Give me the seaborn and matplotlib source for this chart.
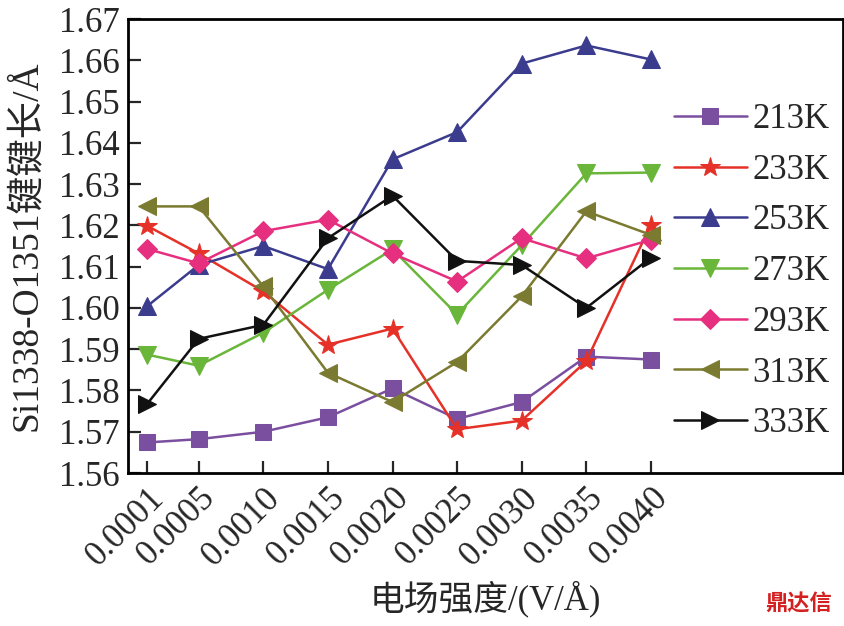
import matplotlib
matplotlib.use("Agg")
import matplotlib.pyplot as plt
import seaborn as sns

# ---------------------------------------------------------------------------
# Dados
# ---------------------------------------------------------------------------
campo = [0.0001, 0.0005, 0.0010, 0.0015, 0.0020, 0.0025, 0.0030, 0.0035, 0.0040]
rotulos_x = ["0.0001", "0.0005", "0.0010", "0.0015", "0.0020",
             "0.0025", "0.0030", "0.0035", "0.0040"]

t213 = [1.5674, 1.5682, 1.5700, 1.5735, 1.5805, 1.5731, 1.5772, 1.5882, 1.5875]
t233 = [1.6199, 1.6132, 1.6040, 1.5911, 1.5950, 1.5706, 1.5727, 1.5871, 1.6202]
t253 = [1.6004, 1.6104, 1.6150, 1.6094, 1.6360, 1.6426, 1.6592, 1.6636, 1.6602]
t273 = [1.5887, 1.5860, 1.5940, 1.6044, 1.6142, 1.5984, 1.6152, 1.6326, 1.6328]
t293 = [1.6143, 1.6108, 1.6186, 1.6214, 1.6132, 1.6064, 1.6169, 1.6120, 1.6165]
t313 = [1.6246, 1.6246, 1.6052, 1.5843, 1.5772, 1.5869, 1.6028, 1.6234, 1.6177]
t333 = [1.5767, 1.5925, 1.5959, 1.6169, 1.6272, 1.6114, 1.6104, 1.6000, 1.6122]

series = [
    ("213K", t213, "#7b4fa0", "s", 11),
    ("233K", t233, "#e53127", "*", 15),
    ("253K", t253, "#3c3c8e", "^", 13),
    ("273K", t273, "#6ab63a", "v", 13),
    ("293K", t293, "#e6307f", "D", 10),
    ("313K", t313, "#7a7a30", "<", 13),
    ("333K", t333, "#111111", ">", 13),
]

# ---------------------------------------------------------------------------
# Configuração
# ---------------------------------------------------------------------------
sns.set_style("ticks")
plt.rcParams["font.family"] = ["Liberation Serif", "Noto Sans CJK SC"]

fig = plt.figure(figsize=(8.45, 6.26), dpi=100)
ax = fig.add_axes([0.1515, 0.2444, 0.846, 0.7252])

for nome, valores, cor, marcador, tam in series:
    sns.lineplot(x=campo, y=valores, color=cor, marker=marcador, markersize=tam,
                 markeredgecolor=cor, linewidth=1.8, label=nome, ax=ax)

ax.set_xlim(-0.0000472, 0.005486)
ax.set_ylim(1.56, 1.67)
ax.set_xticks(campo)
ax.set_xticklabels(rotulos_x, rotation=45, ha="right", rotation_mode="anchor")
ax.set_yticks([1.56 + 0.01 * i for i in range(12)])
ax.set_yticklabels([f"{1.56 + 0.01 * i:.2f}" for i in range(12)])
ax.tick_params(direction="in", length=9, width=1.6, labelsize=25, pad=6)

for lado in ax.spines.values():
    lado.set_linewidth(2)
    lado.set_color("black")

ax.set_xlabel("电场强度/(V/Å)", fontsize=25, labelpad=6)
ax.set_ylabel("Si1338-O1351键键长/Å", fontsize=27, labelpad=10)

ax.legend(loc="upper left", bbox_to_anchor=(0.7636, 0.815), frameon=False,
          fontsize=25, handlelength=2.1, handletextpad=0.15, labelspacing=0.51,
          borderpad=0, borderaxespad=0)

fig.text(0.945, 0.035, "鼎达信", color="#d42020", fontsize=16, fontweight="bold",
         ha="center", va="center", family=["Noto Sans CJK SC"])

fig.savefig("out.png", dpi=100)
